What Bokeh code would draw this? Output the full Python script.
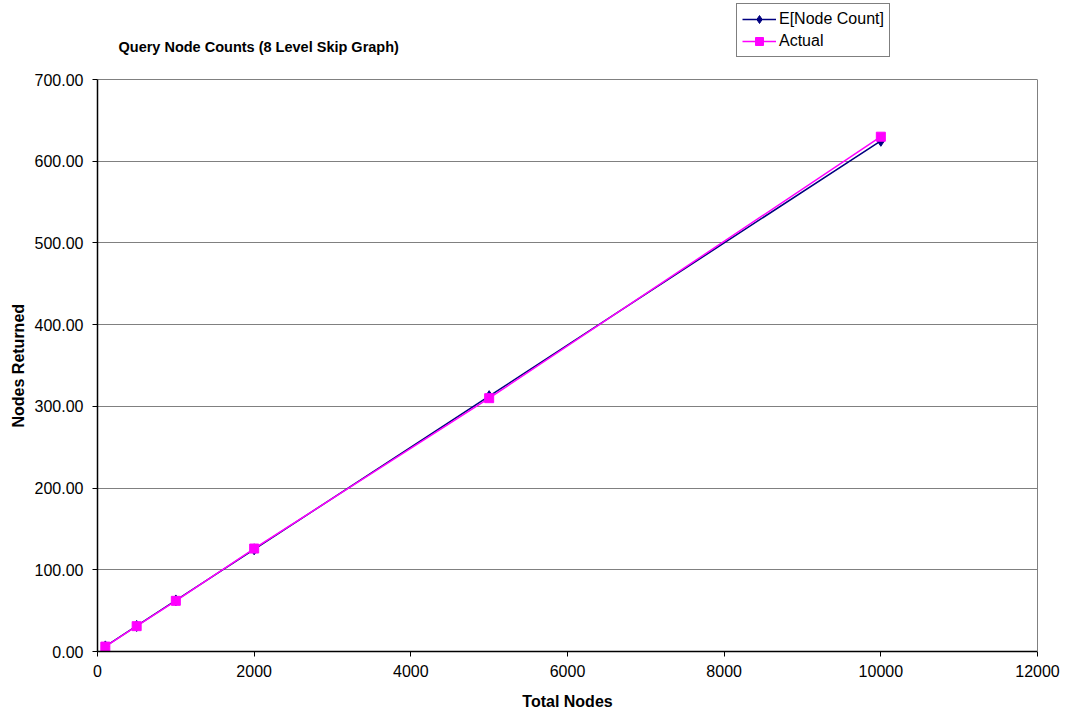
from bokeh.plotting import figure
from bokeh.models import (Range1d, NumeralTickFormatter, FixedTicker, Legend, LegendItem,
                          LinearAxis, Label, Title)
from bokeh.embed import file_html
from bokeh.resources import INLINE

total_nodes = [100, 500, 1000, 2000, 5000, 10000]
expected = [6.25, 31.25, 62.5, 125, 312.5, 625]
actual = [6, 31, 62, 126, 310, 630]
x_ticks = [0, 2000, 4000, 6000, 8000, 10000, 12000]
y_ticks = [0, 100, 200, 300, 400, 500, 600, 700]
title_text = "Query Node Counts (8 Level Skip Graph)"
x_label = "Total Nodes"
y_label = "Nodes Returned"

FONT = "Liberation Sans"
Y_MAX = 700
# frame spans the whole height above the x axis; the value axis occupies its lower 572 px
y_view_top = Y_MAX * 651 / 572

p = figure(width=1067, height=715, output_backend="svg", toolbar_location=None,
           x_range=Range1d(0, 12000), y_range=Range1d(0, y_view_top),
           min_border_left=97, min_border_right=30, min_border_top=0, min_border_bottom=64)
p.background_fill_color = "white"
p.border_fill_color = "white"
p.outline_line_color = None

p.xgrid.grid_line_color = None
p.ygrid.ticker = FixedTicker(ticks=y_ticks)
p.ygrid.grid_line_color = "#808080"
p.ygrid.grid_line_width = 1

p.xaxis.ticker = FixedTicker(ticks=x_ticks)
p.yaxis.ticker = FixedTicker(ticks=y_ticks)
p.yaxis.bounds = (0, Y_MAX)
p.yaxis.formatter = NumeralTickFormatter(format="0.00")
for ax in (p.xaxis, p.yaxis):
    ax.axis_line_color = "black"
    ax.axis_line_width = 1.5
    ax.major_tick_line_color = "black"
    ax.major_tick_out = 5
    ax.major_tick_in = 0
    ax.minor_tick_line_color = None
    ax.major_label_text_font = FONT
    ax.major_label_text_font_size = "16px"
    ax.major_label_text_color = "black"
    ax.axis_label_text_font = FONT
    ax.axis_label_text_font_size = "16px"
    ax.axis_label_text_font_style = "bold"
    ax.axis_label_text_color = "black"
p.xaxis.axis_label = x_label
p.xaxis.major_label_standoff = 8
p.yaxis.major_label_standoff = 9
p.xaxis.axis_label_standoff = 13

# y axis title, centred on the value part of the frame
ytitle = Title(text=y_label, align="left", offset=224, standoff=10,
               text_font=FONT, text_font_size="16px", text_font_style="bold",
               text_color="black")
p.add_layout(ytitle, "left")

right_axis = LinearAxis(bounds=(0, Y_MAX), ticker=FixedTicker(ticks=[]),
                        axis_line_color="#808080", axis_line_width=1,
                        major_tick_line_color=None, minor_tick_line_color=None,
                        major_label_text_font_size="0px")
p.add_layout(right_axis, "right")

l1 = p.line(total_nodes, expected, line_color="#000080", line_width=1.5)
s1 = p.scatter(total_nodes, expected, marker="diamond", size=11, fill_color="#000080", line_color="#000080")
l2 = p.line(total_nodes, actual, line_color="#FF00FF", line_width=1.5)
s2 = p.scatter(total_nodes, actual, marker="square", size=9, fill_color="#FF00FF", line_color="#FF00FF")

title = Label(x=21, y=605, x_units="screen", y_units="screen", text=title_text,
              text_font=FONT, text_font_size="14.5px", text_font_style="bold",
              text_color="black", text_baseline="middle", text_align="left")
p.add_layout(title)

legend = Legend(items=[LegendItem(label="E[Node Count]", renderers=[l1, s1]),
                       LegendItem(label="Actual", renderers=[l2, s2])],
                location=(639, 594))
legend.border_line_color = "black"
legend.border_line_width = 1
legend.background_fill_color = "white"
legend.label_text_font = FONT
legend.label_text_font_size = "16px"
legend.label_text_color = "black"
legend.glyph_width = 34
legend.glyph_height = 20
legend.label_height = 20
legend.spacing = 2
legend.padding = 5
legend.margin = 0
legend.label_standoff = 3
p.add_layout(legend, "center")

open("out.html", "w").write(file_html(p, INLINE))
